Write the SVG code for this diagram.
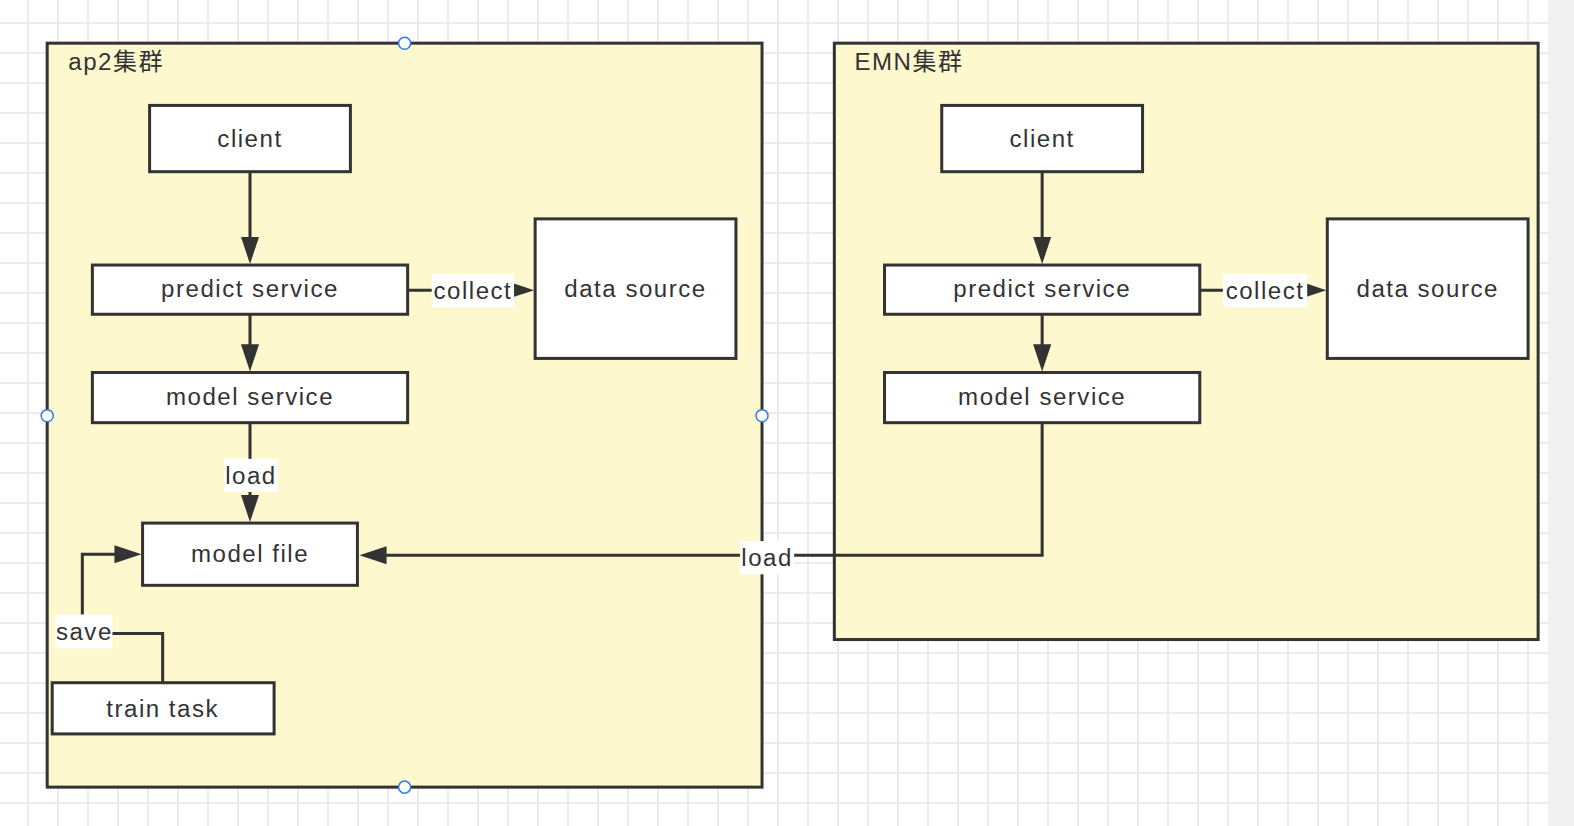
<svg xmlns="http://www.w3.org/2000/svg" width="1574" height="826" viewBox="0 0 1574 826">
<defs>
<pattern id="grid" patternUnits="userSpaceOnUse" x="27" y="22" width="30" height="30">
<path d="M1 0 V30 M0 1 H30" stroke="#ebebeb" stroke-width="2" fill="none"/>
</pattern>
<marker id="arr" markerUnits="userSpaceOnUse" markerWidth="28" markerHeight="20" viewBox="0 0 28 20" refX="18" refY="9" orient="auto">
<path d="M0 0 L27 9 L0 18 Z" fill="#333"/>
</marker>
<style>
.cont{fill:#fdf8cd;stroke:#333;stroke-width:3}
.box{fill:#fff;stroke:#333;stroke-width:3}
.t{font-family:"Liberation Sans",Arial,"Noto Sans CJK SC",sans-serif;font-size:24px;fill:#333;letter-spacing:1.5px}
.mid{text-anchor:middle}
.ln{fill:none;stroke:#333;stroke-width:3}
.lb{fill:#fff}
.h{fill:#fff;stroke:#2b7de9;stroke-width:1.5}
</style>
</defs>
<rect width="1574" height="826" fill="#fff"/>
<rect width="1548" height="826" fill="url(#grid)"/>
<rect x="1548" y="0" width="26" height="826" fill="#f1f1f1"/>

<g transform="scale(1.004)">
<g id="ap2-cluster">
<rect class="cont" x="47" y="43" width="712" height="741"/>
<text class="t" x="68" y="70">ap2集群</text>
</g>
<g id="emn-cluster">
<rect class="cont" x="831" y="43" width="701" height="594"/>
<text class="t" x="851" y="70">EMN集群</text>
</g>

<g id="connectors">
<path class="ln" d="M249 171 V254" marker-end="url(#arr)"/>
<path class="ln" d="M249 313 V361" marker-end="url(#arr)"/>
<path class="ln" d="M406 289 H523" marker-end="url(#arr)"/>
<path class="ln" d="M249 421 V511" marker-end="url(#arr)"/>
<path class="ln" d="M162 680 V631 H82 V552 H132" marker-end="url(#arr)"/>
<path class="ln" d="M1038 171 V254" marker-end="url(#arr)"/>
<path class="ln" d="M1038 313 V361" marker-end="url(#arr)"/>
<path class="ln" d="M1195 289 H1312" marker-end="url(#arr)"/>
<path class="ln" d="M1038 421 V553 H367" marker-end="url(#arr)"/>
<rect class="lb" x="430" y="273" width="82" height="33"/>
<text class="t mid" x="471" y="298">collect</text>
<rect class="lb" x="1218" y="273" width="84" height="33"/>
<text class="t mid" x="1260" y="298">collect</text>
<rect class="lb" x="223" y="457" width="54" height="33"/>
<text class="t mid" x="250" y="482">load</text>
<rect class="lb" x="55" y="612" width="57" height="34"/>
<text class="t mid" x="84" y="637">save</text>
<rect class="lb" x="737" y="539" width="54" height="33"/>
<text class="t mid" x="764" y="564">load</text>
</g>

<g id="client-ap2"><rect class="box" x="149" y="105" width="200" height="66"/><text class="t mid" x="249" y="146">client</text></g>
<g id="predict-ap2"><rect class="box" x="92" y="264" width="314" height="49"/><text class="t mid" x="249" y="296">predict service</text></g>
<g id="datasource-ap2"><rect class="box" x="533" y="218" width="200" height="139"/><text class="t mid" x="633" y="296">data source</text></g>
<g id="model-ap2"><rect class="box" x="92" y="371" width="314" height="50"/><text class="t mid" x="249" y="403">model service</text></g>
<g id="modelfile-ap2"><rect class="box" x="142" y="521" width="214" height="62"/><text class="t mid" x="249" y="560">model file</text></g>
<g id="train-ap2"><rect class="box" x="52" y="680" width="221" height="51"/><text class="t mid" x="162" y="714">train task</text></g>

<g id="client-emn"><rect class="box" x="938" y="105" width="200" height="66"/><text class="t mid" x="1038" y="146">client</text></g>
<g id="predict-emn"><rect class="box" x="881" y="264" width="314" height="49"/><text class="t mid" x="1038" y="296">predict service</text></g>
<g id="datasource-emn"><rect class="box" x="1322" y="218" width="200" height="139"/><text class="t mid" x="1422" y="296">data source</text></g>
<g id="model-emn"><rect class="box" x="881" y="371" width="314" height="50"/><text class="t mid" x="1038" y="403">model service</text></g>

<g id="handles">
<circle class="h" cx="403" cy="43" r="6"/>
<circle class="h" cx="47" cy="414" r="6"/>
<circle class="h" cx="759" cy="414" r="6"/>
<circle class="h" cx="403" cy="784" r="6"/>
</g>
</g>
</svg>
